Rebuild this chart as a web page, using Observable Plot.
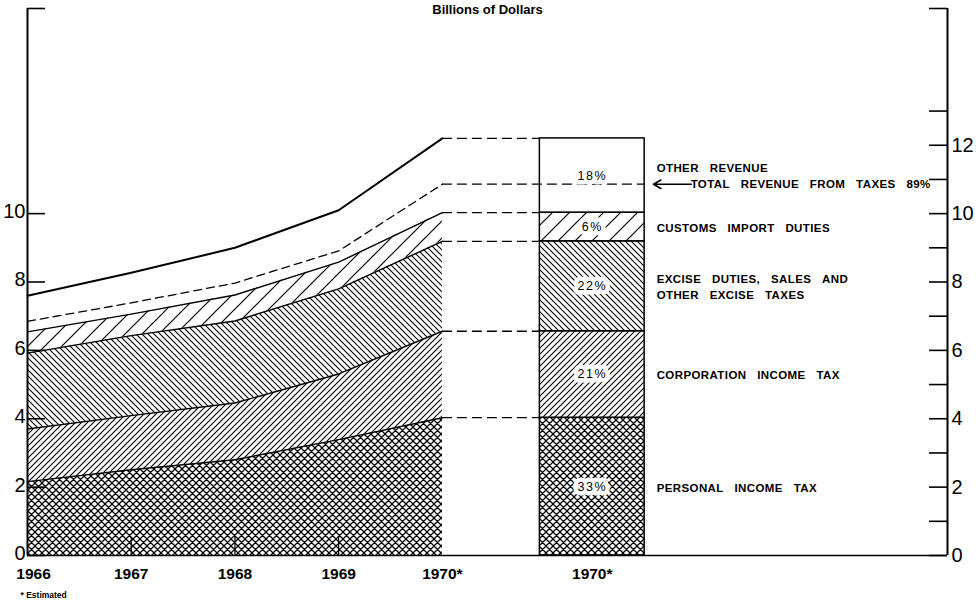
<!DOCTYPE html>
<html>
<head>
<meta charset="utf-8">
<script src="https://cdn.jsdelivr.net/npm/d3@7"></script>
<script src="https://cdn.jsdelivr.net/npm/@observablehq/plot@0.6"></script>
<style>
  html, body { margin: 0; padding: 0; background: #fff; overflow: hidden; }
  #chart svg { display: block; }
</style>
</head>
<body>
<div id="chart"></div>
<script>
// ---------------- data (billions of dollars) ----------------
const years = [1966, 1967, 1968, 1969, 1970];
const personalIncomeTax    = [2.16, 2.51, 2.80, 3.39, 4.03];
const corporationIncomeTax = [1.54, 1.58, 1.66, 1.92, 2.53];
const exciseTaxes          = [2.22, 2.34, 2.40, 2.49, 2.63];
const customsDuties        = [0.62, 0.63, 0.76, 0.78, 0.84];
const totalFromTaxes       = [6.85, 7.39, 7.97, 8.91, 10.86];
const totalRevenue         = [7.60, 8.27, 9.00, 10.10, 12.20];
const shares1970 = ["33%", "21%", "22%", "6%", "18%"];
const layerNames = [
  "PERSONAL INCOME TAX",
  "CORPORATION INCOME TAX",
  "EXCISE DUTIES, SALES AND\nOTHER EXCISE TAXES",
  "CUSTOMS IMPORT DUTIES",
  "OTHER REVENUE"
];
const taxLabel = "TOTAL REVENUE FROM TAXES 89%";
const yearLabels = ["1966", "1967", "1968", "1969", "1970*"];
const barLabel = "1970*";
const leftTickLabels = [0, 2, 4, 6, 8, 10];
const rightTickLabels = [0, 2, 4, 6, 8, 10, 12];
const rightTickMarks = [0, 1, 2, 3, 4, 5, 6, 7, 8, 9, 10, 11, 12, 13, 16];
const leftTickMarks = [0, 2, 4, 6, 8, 10, 16];
const innerYearTicks = [1967, 1968, 1969];
const titleText = "Billions of Dollars";
const footnoteText = "* Estimated";

// ---------------- layout (not data) ----------------
const X_START = 1966, X_END = 1974.87;
const BAR_YEAR = 1970, BAR_X1 = 1970.94, BAR_X2 = 1971.95;
const fills = ["url(#pCross)", "url(#pFwd)", "url(#pBack)", "url(#pSparse)", "white"];
const FONT = "'Liberation Sans', Arial, sans-serif";
const sp = s => s.replace(/ /g, "\u00a0\u00a0\u00a0");

// ---------------- build stacked table ----------------
const components = [personalIncomeTax, corporationIncomeTax, exciseTaxes, customsDuties];
const stacked = [];
years.forEach((year, j) => {
  let c = 0;
  components.forEach((arr, i) => {
    stacked.push({layer: i, year, y1: c, y2: c + arr[j]});
    c += arr[j];
  });
});
const jBar = years.indexOf(BAR_YEAR);
const barRows = stacked.filter(d => d.year === BAR_YEAR).map(d => ({...d}));
barRows.push({layer: 4, year: BAR_YEAR, y1: barRows[3].y2, y2: totalRevenue[jBar]});
barRows.forEach(d => { d.x1 = BAR_X1; d.x2 = BAR_X2; d.pct = shares1970[d.layer]; d.name = sp(layerNames[d.layer]); d.mid = (d.y1 + d.y2) / 2; });
const taxesRow = [{x1: BAR_YEAR, x2: BAR_X2, y: totalFromTaxes[jBar]}];
const connectorVals = barRows.map(d => d.y2);
const yearRows = years.map((x, j) => ({x, t: yearLabels[j]}));

const marks = [];
// areas
components.forEach((_, i) => {
  marks.push(Plot.areaY(stacked.filter(d => d.layer === i), {x: "year", y1: "y1", y2: "y2", fill: fills[i], curve: "linear"}));
});
// layer boundary lines
components.forEach((_, i) => {
  marks.push(Plot.line(stacked.filter(d => d.layer === i), {x: "year", y: "y2", stroke: "black", strokeWidth: 1.4}));
});
marks.push(Plot.line(years.map((x, j) => ({x, y: totalFromTaxes[j]})), {x: "x", y: "y", stroke: "black", strokeWidth: 1.3, strokeDasharray: "8,5"}));
marks.push(Plot.line(years.map((x, j) => ({x, y: totalRevenue[j]})), {x: "x", y: "y", stroke: "black", strokeWidth: 2}));
// dashed connectors to the bar
marks.push(Plot.ruleY(connectorVals, {x1: BAR_YEAR, x2: BAR_X1, stroke: "black", strokeWidth: 1.3, strokeDasharray: "10,5"}));
// bar segments
barRows.forEach(d => {
  marks.push(Plot.rect([d], {x1: "x1", x2: "x2", y1: "y1", y2: "y2", fill: fills[d.layer], stroke: "black", strokeWidth: 1.5}));
});
marks.push(Plot.ruleY(taxesRow, {x1: "x1", x2: "x2", y: "y", stroke: "black", strokeWidth: 1.3, strokeDasharray: "10,5"}));
// axes frame
marks.push(Plot.ruleX([X_START, X_END], {y1: 0, y2: 16, stroke: "black", strokeWidth: 2}));
marks.push(Plot.ruleY([0], {stroke: "black", strokeWidth: 1.6}));
marks.push(Plot.ruleY(leftTickMarks, {stroke: "black", strokeWidth: 1.6, insetRight: 902}));
marks.push(Plot.ruleY(rightTickMarks, {stroke: "black", strokeWidth: 1.6, insetLeft: 902}));
marks.push(Plot.ruleX(innerYearTicks, {stroke: "black", strokeWidth: 1.2, insetTop: 529}));
// axis labels
marks.push(Plot.text(leftTickLabels, {y: d => d, text: d => String(d), frameAnchor: "left", textAnchor: "end", dx: -2, dy: -2, fontSize: 20, fill: "black"}));
marks.push(Plot.text(rightTickLabels, {y: d => d, text: d => String(d), frameAnchor: "right", textAnchor: "start", dx: 4, fontSize: 20, fill: "black"}));
marks.push(Plot.text(yearRows.slice(0, 1), {x: "x", text: "t", frameAnchor: "bottom", dy: 23, dx: 6, fontSize: 15.5, fontWeight: "bold", fill: "black"}));
marks.push(Plot.text(yearRows.slice(1), {x: "x", text: "t", frameAnchor: "bottom", dy: 23, dx: 0, fontSize: 15.5, fontWeight: "bold", fill: "black"}));
marks.push(Plot.text([{x: (BAR_X1 + BAR_X2) / 2, t: barLabel}], {x: "x", text: "t", frameAnchor: "bottom", dy: 23, fontSize: 15.5, fontWeight: "bold", fill: "black"}));
// percentages inside bar
marks.push(Plot.text(barRows, {x: d => (d.x1 + d.x2) / 2, y: "mid", text: "pct", fontSize: 12.5, fill: "black", stroke: "white", strokeWidth: 9, paintOrder: "stroke"}));
// right labels
marks.push(Plot.text(barRows.filter(d => d.layer < 4), {x: "x2", y: "mid", text: "name", dx: 12, textAnchor: "start", fontSize: 11.5, fontWeight: "bold", lineHeight: 1.35, fill: "black"}));
marks.push(Plot.text(barRows.filter(d => d.layer === 4), {x: "x2", y: "mid", text: "name", dx: 12, dy: -7, textAnchor: "start", fontSize: 11.5, fontWeight: "bold", fill: "black"}));
marks.push(Plot.text(taxesRow, {x: "x2", y: "y", text: () => sp(taxLabel), dx: 46, textAnchor: "start", fontSize: 11.5, fontWeight: "bold", fill: "black"}));
marks.push(Plot.arrow(taxesRow, {x1: d => d.x2 + 0.45, x2: d => d.x2 + 0.085, y1: "y", y2: "y", stroke: "black", strokeWidth: 1.6, headLength: 8}));
// title and footnote
marks.push(Plot.text([titleText], {frameAnchor: "top", dy: -4, fontSize: 13, fontWeight: "bold", fill: "black"}));
marks.push(Plot.text([footnoteText], {frameAnchor: "bottom-left", dx: -7, dy: 42, textAnchor: "start", fontSize: 8.5, fontWeight: "bold", fill: "black"}));

const svg = Plot.plot({
  width: 979,
  height: 605,
  marginLeft: 27,
  marginRight: 32,
  marginTop: 8,
  marginBottom: 50,
  style: {fontFamily: FONT, background: "white", color: "black"},
  x: {type: "linear", domain: [X_START, X_END], axis: null},
  y: {type: "linear", domain: [0, 16], axis: null},
  marks
});

// hatch patterns
const defs = `
<defs>
  <pattern id="pCross" patternUnits="userSpaceOnUse" width="7" height="7">
    <rect width="7" height="7" fill="white"/>
    <path d="M-1,1 l2,-2 M0,7 l7,-7 M6,8 l2,-2 M-1,6 l2,2 M0,0 l7,7 M6,-1 l2,2" stroke="black" stroke-width="1.25"/>
  </pattern>
  <pattern id="pFwd" patternUnits="userSpaceOnUse" width="6" height="6">
    <rect width="6" height="6" fill="white"/>
    <path d="M-1,1 l2,-2 M0,6 l6,-6 M5,7 l2,-2" stroke="black" stroke-width="1.1"/>
  </pattern>
  <pattern id="pBack" patternUnits="userSpaceOnUse" width="6" height="6">
    <rect width="6" height="6" fill="white"/>
    <path d="M-1,5 l2,2 M0,0 l6,6 M5,-1 l2,2" stroke="black" stroke-width="1.1"/>
  </pattern>
  <pattern id="pSparse" patternUnits="userSpaceOnUse" width="17" height="17">
    <rect width="17" height="17" fill="white"/>
    <path d="M-1,1 l2,-2 M0,17 l17,-17 M16,18 l2,-2" stroke="black" stroke-width="1.2"/>
  </pattern>
</defs>`;
svg.insertAdjacentHTML("afterbegin", defs);

d3.select(svg).selectAll("text").each(function () {
  const t = this.textContent;
  if (/^\d+%$/.test(t)) this.style.letterSpacing = "1.5px";
  else if (/^[A-Z]/.test(t) && t === t.toUpperCase()) this.style.letterSpacing = "0.4px";
});

document.getElementById("chart").appendChild(svg);
</script>
</body>
</html>
